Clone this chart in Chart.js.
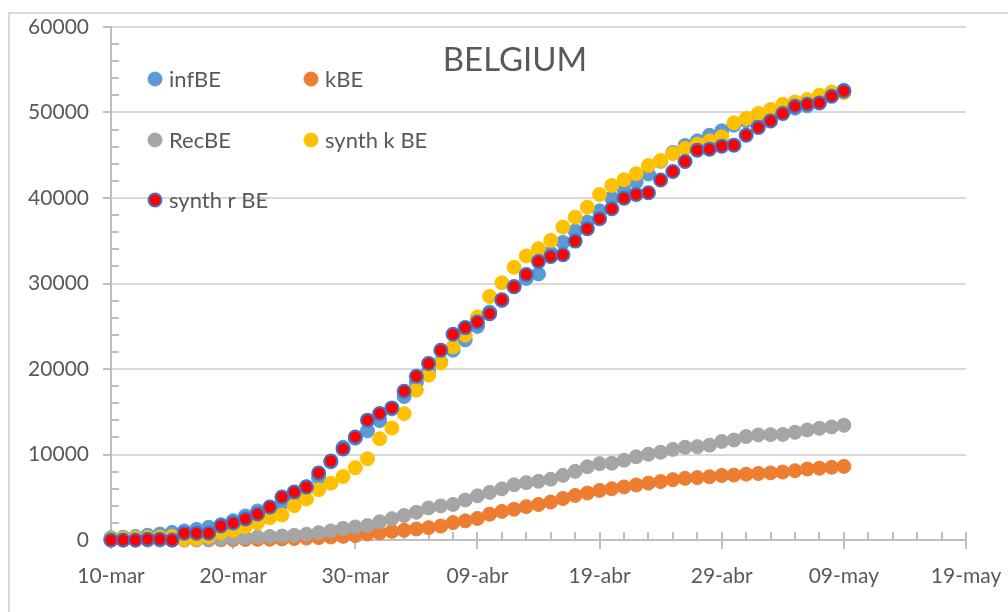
<!DOCTYPE html>
<html>
<head>
<meta charset="utf-8">
<script src="https://cdn.jsdelivr.net/npm/chart.js@4.4.1/dist/chart.umd.min.js"></script>
<style>
html,body{margin:0;padding:0;background:#ffffff;}
canvas{display:block;}
</style>
</head>
<body>
<canvas id="c" width="1008" height="612"></canvas>
<script>
// x = days since 10-mar (day 0 = 10-mar ... day 60 = 09-may)
const xTickLabels = ['10-mar','20-mar','30-mar','09-abr','19-abr','29-abr','09-may','19-may'];
const yTickLabels = ['0','10000','20000','30000','40000','50000','60000'];
const seriesNames = ['infBE','kBE','RecBE','synth k BE','synth r BE'];
const chartTitle = 'BELGIUM';

const infBE = [267,314,399,559,689,886,1058,1243,1486,1795,
  2257,2815,3401,3743,4269,4937,6235,7284,9134,10836,
  11899,12775,13964,15348,16770,18431,19691,20814,22194,23403,
  24983,26667,28018,29647,30589,31119,33573,34809,36138,37183,
  38496,39983,40956,41889,42797,44293,45325,46134,46687,47334,
  47859,48519,49032,49517,49906,50267,50509,50781,51420,52011,52596];

const kBE = [3,3,3,3,4,4,5,10,14,21,
  37,67,75,88,122,178,220,289,353,431,
  513,705,828,1011,1143,1283,1447,1632,2035,2240,
  2523,3019,3346,3600,3903,4157,4440,4857,5210,5490,
  5800,5990,6210,6440,6650,6840,7060,7210,7300,7400,
  7550,7590,7700,7780,7850,7950,8100,8300,8400,8500,8610];

const RecBE = [1,1,1,1,1,1,31,31,31,140,
  204,263,350,410,461,547,675,858,1063,1359,
  1527,1696,2132,2495,2872,3247,3751,3986,4157,4681,
  5164,5568,5986,6463,6707,6868,7107,7562,8030,8560,
  8930,8980,9330,9730,10030,10270,10600,10850,10920,11090,
  11530,11690,12100,12290,12320,12350,12600,12870,13060,13220,13420];

const synthKBE = [150,200,250,300,350,400,100,150,400,850,
  1100,1550,2020,2600,2920,4000,4800,5880,6640,7420,
  8450,9500,11840,13100,14780,17520,19272,20709,22578,23944,
  26085,28480,30080,31890,33230,34070,35040,36594,37762,38930,
  40414,41465,42131,42832,43801,44385,45190,45795,46297,46683,
  47150,48785,49299,49883,50350,50969,51238,51518,52021,52406,52300];

const synthRBE = [0,0,0,100,100,0,800,800,800,1640,
  2000,2460,3040,3860,5030,5620,6200,7840,9240,10650,
  12050,14016,14795,15449,17403,19155,20635,22192,24061,24840,
  25497,26470,28090,29620,31050,32587,33171,33370,34958,36408,
  37576,38744,39983,40415,40613,42100,43100,44268,45597,45714,
  46064,46181,47349,48248,49019,49883,50736,50969,51121,51904,52523];

const toPts = arr => arr.map((v, i) => ({x: i, y: v}));

function makeDs(label, values, fill, border, bw, r, order) {
  return {
    label: label,
    data: toPts(values),
    showLine: false,
    backgroundColor: fill,
    borderColor: border,
    pointBackgroundColor: fill,
    pointBorderColor: border,
    pointBorderWidth: bw,
    pointRadius: r,
    pointHoverRadius: r,
    order: order,
    clip: false
  };
}

const TEXT = '#595959';

const framePlugin = {
  id: 'frame',
  beforeDraw(chart) {
    const c = chart.ctx;
    c.save();
    c.strokeStyle = '#D9D9D9';
    c.lineWidth = 2;
    c.beginPath();
    c.moveTo(9, 612);
    c.lineTo(9, 13);
    c.lineTo(1008, 13);
    c.stroke();
    c.restore();
  }
};

const minorTicksPlugin = {
  id: 'minorTicks',
  beforeDatasetsDraw(chart) {
    const {ctx, scales: {x, y}} = chart;
    ctx.save();
    ctx.strokeStyle = '#BFBFBF';
    ctx.lineWidth = 2;
    for (let d = 0; d <= 70; d += 2) {
      const px = Math.round(x.getPixelForValue(d));
      const major = d % 10 === 0;
      ctx.beginPath();
      ctx.moveTo(px, y.bottom - 8);
      ctx.lineTo(px, y.bottom + (major ? 9 : 0));
      ctx.stroke();
    }
    for (let v = 2000; v < 60000; v += 2000) {
      if (v % 10000 === 0) continue;
      const py = Math.round(y.getPixelForValue(v));
      ctx.beginPath();
      ctx.moveTo(x.left, py);
      ctx.lineTo(x.left + 8, py);
      ctx.stroke();
    }
    ctx.restore();
  }
};

const legendTitlePlugin = {
  id: 'legendTitle',
  afterDatasetsDraw(chart) {
    const ctx = chart.ctx;
    ctx.save();
    // title
    ctx.fillStyle = TEXT;
    ctx.font = '33px Lato';
    ctx.textAlign = 'center';
    ctx.textBaseline = 'alphabetic';
    ctx.fillText(chartTitle, 515, 71);
    // legend
    const pos = [[155, 79], [311, 79], [155, 140], [311, 140], [155, 200]];
    ctx.font = '22px Lato';
    ctx.textAlign = 'left';
    chart.data.datasets.forEach((ds, i) => {
      const [cx, cy] = pos[i];
      ctx.beginPath();
      ctx.arc(cx, cy, ds.pointBorderWidth > 1.5 ? 6.5 : 7, 0, Math.PI * 2);
      ctx.fillStyle = ds.pointBackgroundColor;
      ctx.fill();
      ctx.lineWidth = ds.pointBorderWidth;
      ctx.strokeStyle = ds.pointBorderColor;
      ctx.stroke();
      ctx.fillStyle = TEXT;
      ctx.textBaseline = 'middle';
      ctx.fillText(ds.label, cx + 14, cy + 1);
    });
    ctx.restore();
  }
};

function build() {
  new Chart(document.getElementById('c'), {
    type: 'scatter',
    data: {
      datasets: [
        makeDs(seriesNames[0], infBE, '#5B9BD5', '#5B9BD5', 1, 7, 4),
        makeDs(seriesNames[1], kBE, '#ED7D31', '#ED7D31', 1, 7, 3),
        makeDs(seriesNames[2], RecBE, '#A5A5A5', '#A5A5A5', 1, 7, 2),
        makeDs(seriesNames[3], synthKBE, '#FFC000', '#FFC000', 1, 7, 1),
        makeDs(seriesNames[4], synthRBE, '#FF0000', '#4472C4', 2, 6.5, 0)
      ]
    },
    options: {
      responsive: false,
      animation: false,
      events: [],
      layout: { padding: { top: 27, right: 42, left: 0, bottom: 0 } },
      plugins: {
        legend: { display: false },
        title: { display: false },
        tooltip: { enabled: false }
      },
      scales: {
        x: {
          type: 'linear',
          min: 0,
          max: 70,
          afterFit(s) { s.height = 72; },
          grid: { display: true, drawOnChartArea: false, drawTicks: true, tickLength: 21, tickColor: 'rgba(0,0,0,0)', tickWidth: 0 },
          border: { display: true, color: '#BFBFBF', width: 2 },
          ticks: {
            stepSize: 10,
            autoSkip: false,
            maxRotation: 0,
            padding: 3,
            color: TEXT,
            font: { family: 'Lato', size: 21 },
            callback: (v) => xTickLabels[Math.round(v / 10)]
          }
        },
        y: {
          type: 'linear',
          min: 0,
          max: 60000,
          afterFit(s) { s.width = 111; },
          grid: { color: '#D9D9D9', lineWidth: 2, tickColor: '#BFBFBF', tickLength: 8, tickWidth: 2 },
          border: { display: true, color: '#BFBFBF', width: 2 },
          ticks: {
            stepSize: 10000,
            padding: 14,
            color: TEXT,
            font: { family: 'Lato', size: 21 },
            callback: (v) => yTickLabels[Math.round(v / 10000)]
          }
        }
      }
    },
    plugins: [framePlugin, minorTicksPlugin, legendTitlePlugin]
  });
}

if (document.fonts && document.fonts.load) {
  Promise.all([document.fonts.load('21px Lato'), document.fonts.load('33px Lato')])
    .then(build, build);
} else {
  build();
}
</script>
</body>
</html>
